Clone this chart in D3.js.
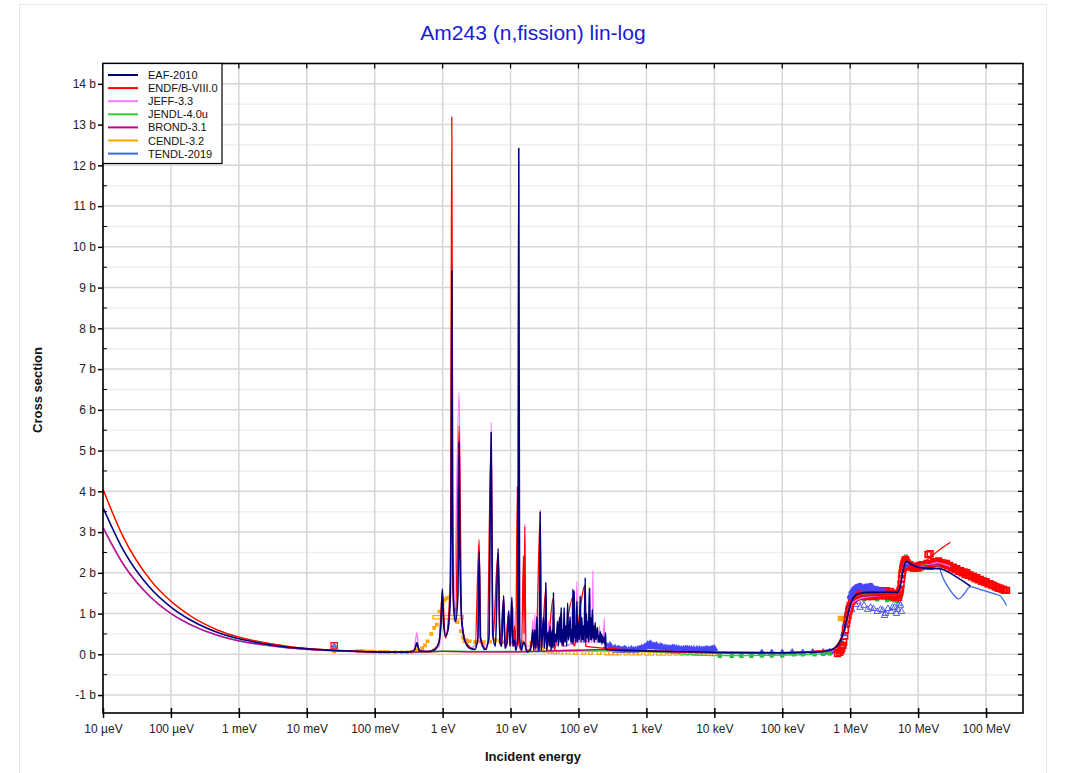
<!DOCTYPE html>
<html><head><meta charset="utf-8">
<script src="https://cdn.jsdelivr.net/npm/d3@7"></script>
<style>body{margin:0;background:#fff;font-family:"Liberation Sans",Arial,sans-serif}</style>
</head><body><svg id="c" width="1067" height="773"></svg>
<script>
// ---------- axis ticks ----------
const xTickValues = [1e-5,1e-4,1e-3,1e-2,1e-1,1,10,100,1e3,1e4,1e5,1e6,1e7,1e8];
const xTickLabels = ["10 µeV","100 µeV","1 meV","10 meV","100 meV","1 eV","10 eV","100 eV","1 keV","10 keV","100 keV","1 MeV","10 MeV","100 MeV"];
const yTickValues = [-1,0,1,2,3,4,5,6,7,8,9,10,11,12,13,14];
const yTickLabels = ["-1 b","0 b","1 b","2 b","3 b","4 b","5 b","6 b","7 b","8 b","9 b","10 b","11 b","12 b","13 b","14 b"];
const yMinorValues = [-0.5,0.5,1.5,2.5,3.5,4.5,5.5,6.5,7.5,8.5,9.5,10.5,11.5,12.5,13.5];

// ---------- evaluated libraries ----------
const seriesNames  = ["EAF-2010","ENDF/B-VIII.0","JEFF-3.3","JENDL-4.0u","BROND-3.1","CENDL-3.2","TENDL-2019"];
const seriesColors = ["#00007f","#ff0000","#ff77ff","#33cc33","#c0008c","#ffa500","#4169e1"];

const eaf = [[1e-5,3.6],[2e-5,2.55],[5e-5,1.62],[1e-4,1.16],[2e-4,0.83],[5e-4,0.53],[1e-3,0.38],[2e-3,0.28],[5e-3,0.18],[1e-2,0.135],[2.53e-2,0.095],[5e-2,0.075],[0.1,0.06],[0.2,0.055],[0.3,0.055],[0.37,0.08],[0.40,0.18],[0.417,0.29],[0.435,0.18],[0.47,0.08],[0.6,0.07],[0.75,0.1],[0.88,0.3],[0.95,0.8],[0.99,1.6],[1.03,0.8],[1.1,0.45],[1.2,0.6],[1.3,1.5],[1.34,4],[1.365,9.41],[1.39,4],[1.45,1.2],[1.55,0.8],[1.68,1.5],[1.73,3.5],[1.75,5.2],[1.78,3],[1.9,0.9],[2.1,0.35],[2.5,0.15],[3.0,0.12],[3.3,0.4],[3.45,2.52],[3.6,0.4],[4.2,0.12],[4.8,0.4],[5.18,5.45],[5.45,0.5],[6.0,0.2],[6.56,2.6],[7.0,0.3],[7.4,0.2],[7.91,1.44],[8.3,0.15],[8.9,0.3],[9.4,1.07],[9.8,0.2],[10.45,1.40],[10.8,0.2],[11.4,0.35],[12.0,0.1],[12.8,0.5],[13.2,12.42],[13.6,0.4],[14.5,0.1],[15.5,0.3],[16.2,0.25],[17.5,0.06],[19,0.08],[20.2,0.2],[21.3,0.6],[22,0.1],[22.8,0.6],[23.6,0.15],[24.4,0.92],[25.5,0.08],[26.5,0.15],[27.3,3.51],[28.2,0.1],[29.2,0.4],[30.5,0.91],[31.5,0.15],[32.2,0.5],[33.1,1.77],[34,0.1],[35,0.4],[36.2,0.55],[37.2,0.2],[38.3,0.69],[39.5,0.1],[40.5,0.45],[41.4,0.6],[42,0.15],[42.8,1.52],[44,0.2],[45.5,0.5],[47,0.3],[49.1,0.81],[50.5,0.2],[52.5,0.91],[54,0.3],[55.6,1.15],[57,0.25],[58.5,0.6],[60,0.2],[61.5,1.15],[63,0.3],[65,0.7],[67,0.2],[69.3,1.26],[71,0.35],[73,0.5],[75.5,0.92],[77,0.3],[79,0.6],[81,0.25],[82.7,1.6],[84.5,0.3],[86.5,1.56],[88,0.4],[90,0.7],[92,0.3],[94.7,1.3],[97,0.3],[100,0.8],[103,0.35],[106,1.43],[109,0.3],[112,0.9],[115,0.35],[118,0.7],[121,0.3],[125.6,1.88],[128,0.3],[131,1.0],[134,0.4],[137,0.8],[140,0.3],[145,1.63],[148,0.35],[152,0.9],[156,0.35],[160,1.1],[163,0.4],[167,0.7],[171,0.3],[176,0.78],[180,0.35],[185,0.5],[190.5,0.66],[195,0.3],[200,0.45],[204,0.3],[209,0.56],[214,0.3],[218,0.5],[222,0.25],[227,0.45],[233,0.3],[239,0.4],[244,0.25],[250,0.53],[253,0.15],[256,0.12],[300,0.11],[1000,0.085],[1e4,0.05],[1e5,0.04],[3e5,0.05],[5e5,0.1],[6.4e5,0.2],[8e5,0.55],[9e5,0.9],[1.07e6,1.34],[1.34e6,1.49],[2e6,1.52],[5e6,1.52],[5.5e6,1.7],[6e6,2.05],[6.7e6,2.28],[8e6,2.2],[1.16e7,2.12],[2.1e7,2.1],[3.5e7,1.92],[5.9e7,1.67]];

const endf = [[1e-5,4.05],[2e-5,2.87],[5e-5,1.82],[1e-4,1.3],[2e-4,0.93],[5e-4,0.59],[1e-3,0.42],[2e-3,0.31],[5e-3,0.2],[1e-2,0.145],[2.53e-2,0.1],[5e-2,0.078],[0.1,0.062],[0.2,0.055],[0.3,0.055],[0.38,0.08],[0.417,0.26],[0.45,0.08],[0.6,0.07],[0.88,0.25],[0.99,1.5],[1.1,0.4],[1.3,1.8],[1.365,13.19],[1.42,1.6],[1.55,0.8],[1.75,5.6],[1.9,0.9],[2.2,0.3],[3.0,0.12],[3.45,2.82],[3.6,0.4],[4.5,0.12],[5.18,5.3],[5.5,0.4],[6.56,2.5],[7,0.25],[7.91,1.35],[8.3,0.15],[9.4,1.0],[10,0.2],[10.45,1.3],[10.9,0.2],[11.4,0.70],[11.9,0.1],[12.6,4.11],[13.0,0.3],[14.5,0.1],[15.5,2.42],[15.8,0.5],[16.2,3.14],[16.8,0.1],[19,0.1],[21.3,0.5],[22,0.1],[22.8,0.5],[23.6,0.1],[27.3,3.4],[28.2,0.1],[33.1,1.6],[34,0.1],[42.8,1.4],[44,0.1],[55.6,1.0],[57,0.2],[82.7,1.4],[84.5,0.2],[125.6,1.7],[128,0.2],[250,0.15],[1000,0.09],[1e4,0.05],[1e5,0.04],[5e5,0.1],[8e5,0.55],[1.07e6,1.3],[1.5e6,1.45],[5e6,1.48],[6e6,2.1],[6.7e6,2.3],[1e7,2.2],[1.48e7,2.37],[2e7,2.55],[3e7,2.75]];

const jeff = [[1e-5,3.1],[2e-5,2.2],[5e-5,1.4],[1e-4,1.0],[2e-4,0.72],[5e-4,0.46],[1e-3,0.33],[2e-3,0.25],[5e-3,0.165],[1e-2,0.125],[2.53e-2,0.09],[5e-2,0.072],[0.1,0.06],[0.3,0.055],[0.38,0.1],[0.417,0.53],[0.45,0.1],[0.6,0.07],[0.9,0.2],[0.99,1.3],[1.1,0.4],[1.3,1.2],[1.365,9.0],[1.45,0.8],[1.75,6.43],[1.9,0.8],[2.5,0.15],[3.3,0.3],[3.45,2.5],[3.7,0.2],[4.8,0.3],[5.18,5.69],[5.5,0.4],[6.56,2.5],[7.0,0.2],[7.91,1.4],[8.3,0.2],[9.4,1.0],[9.8,0.2],[10.45,1.3],[10.7,0.3],[11.0,1.15],[11.5,0.2],[12.8,0.4],[13.2,5],[13.6,0.3],[15.8,0.3],[16.2,3.2],[16.8,0.2],[20.2,0.2],[21.3,0.85],[22,0.2],[22.8,0.97],[23.6,0.2],[26.5,0.2],[27.3,3.55],[28.2,0.2],[32.2,0.3],[33.1,1.7],[34,0.2],[35.2,0.3],[36.2,0.81],[37.2,0.2],[40.5,0.3],[41.4,0.97],[42.2,0.2],[54,0.3],[55.6,1.0],[58,0.2],[84.5,0.3],[86.5,1.4],[89,0.2],[92,0.3],[94.7,1.79],[97,0.3],[123,0.3],[125.6,1.7],[128,0.3],[146,0.3],[148.6,1.61],[152,0.3],[160,0.3],[163,2.06],[166,0.3],[200,0.3],[203.9,0.69],[207,0.3],[230,0.3],[233.5,0.66],[236,0.3],[239,0.88],[243,0.3],[250,0.2],[300,0.12],[1000,0.09],[1e4,0.05],[1e5,0.035],[5e5,0.09],[8e5,0.5],[1.07e6,1.25],[1.4e6,1.37],[3e6,1.45],[5e6,1.47],[6e6,2.1],[6.7e6,2.25],[1e7,2.15],[1.6e7,2.22],[1.9e7,2.25],[2.5e7,2.2],[3e7,2.15]];

const jendl = [[1e-5,3.1],[2e-5,2.2],[5e-5,1.4],[1e-4,1.0],[2e-4,0.72],[5e-4,0.46],[1e-3,0.33],[2e-3,0.25],[5e-3,0.165],[1e-2,0.125],[2.53e-2,0.09],[0.1,0.06],[0.3,0.055],[0.6,0.06],[1,0.08],[3,0.07],[10,0.07],[30,0.08],[100,0.1],[250,0.1],[1000,0.07],[1e4,-0.03],[3e4,-0.03],[1e5,-0.02],[3e5,0.0],[5e5,0.08],[8e5,0.5],[1.07e6,1.3],[1.5e6,1.45],[5e6,1.47],[6e6,2.1],[6.7e6,2.3],[1e7,2.18],[2e7,2.2]];

const brond = [[1e-5,3.12],[2e-5,2.21],[5e-5,1.41],[1e-4,1.0],[2e-4,0.72],[5e-4,0.46],[1e-3,0.33],[2e-3,0.25],[5e-3,0.165],[1e-2,0.125],[2.53e-2,0.09],[0.1,0.06],[0.3,0.055],[0.6,0.06],[1,0.07],[3,0.06],[10,0.06],[30,0.08],[100,0.1],[250,0.12],[300,0.1],[1000,0.08],[1e4,0.03],[1e5,0.02],[5e5,0.09],[8e5,0.5],[1.07e6,1.3],[1.5e6,1.42],[5e6,1.48],[6e6,2.08],[6.7e6,2.27],[1e7,2.17],[2e7,2.2]];

const cendl = [[1e-5,4.05],[2e-5,2.87],[5e-5,1.82],[1e-4,1.3],[2e-4,0.93],[5e-4,0.59],[1e-3,0.42],[2e-3,0.31],[5e-3,0.2],[1e-2,0.145],[2.53e-2,0.1],[0.1,0.062],[0.3,0.055],[0.6,0.06],[1,0.07],[3,0.06],[10,0.06],[30,0.07],[100,0.07],[250,0.07],[1000,0.06],[1e4,0.04],[1e5,0.03],[5e5,0.1],[8e5,0.5],[1.07e6,1.3],[1.5e6,1.45],[5e6,1.48],[6e6,2.1],[6.7e6,2.28],[1e7,2.18],[2e7,2.2]];

const tendl = [[1e-5,3.1],[2e-5,2.2],[5e-5,1.4],[1e-4,1.0],[1e-3,0.33],[1e-2,0.125],[0.1,0.06],[0.3,0.055],[1,0.07],[10,0.06],[100,0.08],[250,0.1],[1000,0.07],[1e4,0.04],[1e5,0.04],[5e5,0.1],[8e5,0.5],[1.07e6,1.3],[1.5e6,1.45],[5e6,1.5],[6e6,2.05],[7e6,2.25],[1e7,2.15],[1.9e7,2.2],[2.38e7,1.84],[3.16e7,1.51],[3.95e7,1.36],[4.68e7,1.47],[5.87e7,1.66],[8.24e7,1.59],[1.29e8,1.49],[1.62e8,1.43],[2e8,1.2]];

const seriesData = [eaf, endf, jeff, jendl, brond, cendl, tendl];
const drawOrder = [6,5,3,2,4,1,0];

// ---------- experimental data ----------
const expOrangeLow = [[0.0253,0.07],[0.055,0.08],[0.06,0.07],[0.065,0.08],[0.07,0.07],[0.08,0.065],[0.09,0.07],[0.1,0.06],[0.12,0.06],[0.14,0.06],[0.16,0.055],[0.2,0.05],[0.25,0.05],[0.3,0.05],[0.35,0.06],[0.4,0.1],[0.45,0.08],[0.5,0.15],[0.55,0.22],[0.6,0.32],[0.68,0.5],[0.75,0.65],[0.82,0.73],[0.9,1.05],[1.0,1.25],[1.08,1.34],[1.15,1.38],[1.25,1.4],[1.5,1.1],[1.65,0.79],[1.85,0.57],[2.0,0.41],[2.2,0.35],[2.5,0.32],[3,0.3],[3.5,0.32],[4,0.3],[5,0.31],[6,0.35],[7,0.33],[8,0.3],[10,0.28],[12,0.25],[15,0.3],[20,0.28],[25,0.22],[30,0.2]];
const expOrangeBand = [[28,0.15],[32,0.1],[38,0.07],[45,0.06],[55,0.05],[70,0.05],[90,0.04],[120,0.04],[150,0.04],[200,0.04],[260,0.03],[300,0.03],[350,0.03],[400,0.03],[500,0.03],[600,0.03],[700,0.03],[800,0.03],[1000,0.025],[1200,0.02],[1500,0.02],[1800,0.02],[2200,0.02],[2700,0.02],[3300,0.02],[4000,0.02],[5000,0.02],[6000,0.02],[7000,0.02],[8000,0.02],[9000,0.02],[10000,0.02]];
const expOrangeBoxes = [[0.72,2.02,0.87,0.95],[2.0,2.37,0.29,0.36]];
const expOrangeFast = [[7.2e5,0.88]];
const expThermal = [[0.0253,0.21]];
const expBlueKeV = [[260,0.2],[270,0.13],[280,0.15],[290,0.22],[300,0.18],[315,0.12],[330,0.12],[345,0.15],[360,0.1],[380,0.13],[400,0.12],[425,0.1],[450,0.1],[475,0.13],[500,0.11],[550,0.1],[600,0.12],[650,0.1],[700,0.1],[750,0.12],[800,0.13],[850,0.15],[900,0.15],[950,0.18],[1000,0.2],[1050,0.24],[1100,0.22],[1150,0.26],[1200,0.18],[1250,0.21],[1300,0.2],[1400,0.22],[1500,0.17],[1600,0.19],[1700,0.18],[1850,0.16],[2000,0.15],[2150,0.14],[2300,0.14],[2450,0.16],[2600,0.15],[2800,0.14],[3000,0.13],[3250,0.12],[3500,0.12],[3750,0.13],[4000,0.13],[4300,0.12],[4600,0.12],[5000,0.12],[5500,0.12],[6000,0.12],[6500,0.11],[7000,0.11],[7500,0.12],[8000,0.12],[8500,0.11],[9000,0.12],[9500,0.13],[10000,0.14]];
const expBlueFast = [[5e4,0.04],[7e4,0.04],[1e5,0.04],[1.4e5,0.05],[2e5,0.04],[2.8e5,0.05],[4e5,0.05],[5e5,0.06],[6e5,0.08],[7e5,0.15],[7.5e5,0.3],[8e5,0.5],[8.5e5,0.75],[9e5,1.0],[9.5e5,1.2]];
const expBlueCircles = [[1.0e6,1.4],[1.05e6,1.5],[1.1e6,1.55],[1.15e6,1.6],[1.2e6,1.62],[1.25e6,1.65],[1.3e6,1.66],[1.4e6,1.68],[1.5e6,1.64],[1.6e6,1.62],[1.7e6,1.66],[1.8e6,1.66],[1.9e6,1.62],[2.0e6,1.68],[2.2e6,1.62],[2.5e6,1.6],[3.0e6,1.55],[6.6e6,2.2]];
const expBlueTriangles = [[1.0e6,1.25],[1.05e6,1.1],[1.1e6,1.3],[1.2e6,1.22],[1.3e6,1.3],[1.4e6,1.15],[1.6e6,1.2],[1.8e6,1.1],[2.0e6,1.15],[2.2e6,1.12],[2.5e6,1.05],[2.8e6,1.1],[3.0e6,1.08],[3.2e6,0.95],[3.3e6,1.0],[3.6e6,1.12],[4.0e6,1.05],[4.2e6,1.15],[4.5e6,1.15],[4.8e6,1.0],[5.0e6,1.1],[5.3e6,1.25],[5.5e6,1.2],[5.7e6,1.05]];
const expGreen = [[1.2e4,-0.04],[1.8e4,-0.04],[2.5e4,-0.04],[3.5e4,-0.04],[5e4,-0.03],[7e4,-0.03],[1e5,-0.03],[1.5e5,0.0],[2e5,0.0],[3e5,0.0],[4e5,0.01],[5e5,0.02],[1.1e6,1.35],[1.3e6,1.38],[1.6e6,1.35],[2e6,1.38],[2.5e6,1.35],[3e6,1.38],[3.5e6,1.33],[4e6,1.35],[4.5e6,1.32],[5e6,1.3],[5.5e6,1.4],[5.8e6,2.1],[6.2e6,2.35],[6.6e6,2.4]];
const expRedSquares = [[6.5e5,0.02],[7e5,0.05],[7.3e5,0.1],[7.5e5,0.15],[7.8e5,0.22],[8e5,0.3],[8.3e5,0.45],[8.5e5,0.6],[8.8e5,0.75],[9e5,0.85],[9.3e5,0.95],[9.5e5,1.05],[9.8e5,1.12],[1.0e6,1.2],[1.05e6,1.3],[1.1e6,1.35],[1.15e6,1.38],[1.2e6,1.4],[1.25e6,1.47],[1.3e6,1.43],[1.35e6,1.5],[1.4e6,1.45],[1.45e6,1.52],[1.5e6,1.5],[1.55e6,1.42],[1.6e6,1.45],[1.65e6,1.53],[1.7e6,1.5],[1.75e6,1.42],[1.8e6,1.46],[1.9e6,1.54],[2.0e6,1.5],[2.1e6,1.42],[2.15e6,1.47],[2.2e6,1.55],[2.3e6,1.52],[2.4e6,1.43],[2.45e6,1.48],[2.55e6,1.56],[2.6e6,1.52],[2.7e6,1.44],[2.8e6,1.5],[2.9e6,1.56],[3.0e6,1.53],[3.1e6,1.45],[3.2e6,1.5],[3.35e6,1.56],[3.5e6,1.5],[3.6e6,1.43],[3.8e6,1.47],[3.9e6,1.54],[4.0e6,1.45],[4.15e6,1.5],[4.3e6,1.44],[4.45e6,1.4],[4.6e6,1.42],[4.8e6,1.48],[5.0e6,1.45],[5.15e6,1.4],[5.3e6,1.5],[5.4e6,1.55],[5.5e6,1.6],[5.6e6,1.72],[5.7e6,1.85],[5.8e6,1.95],[5.85e6,2.0],[5.95e6,2.08],[6.0e6,2.12],[6.1e6,2.18],[6.2e6,2.22],[6.3e6,2.26],[6.4e6,2.28],[6.5e6,2.32],[6.6e6,2.3],[6.7e6,2.22],[6.8e6,2.25],[6.9e6,2.18],[7.0e6,2.22],[7.3e6,2.17],[7.5e6,2.2],[7.8e6,2.14],[8e6,2.15],[8.5e6,2.12],[9e6,2.12],[9.5e6,2.16],[1e7,2.12],[1.05e7,2.18],[1.1e7,2.15],[1.15e7,2.2],[1.2e7,2.17],[1.3e7,2.18],[1.35e7,2.23],[1.45e7,2.2],[1.5e7,2.16],[1.6e7,2.22],[1.7e7,2.27],[1.75e7,2.25],[1.85e7,2.23],[1.9e7,2.27],[2.0e7,2.29],[2.1e7,2.25],[2.2e7,2.22],[2.3e7,2.24],[2.45e7,2.2],[2.6e7,2.23],[2.75e7,2.17],[2.9e7,2.18],[3.1e7,2.12],[3.3e7,2.14],[3.5e7,2.08],[3.7e7,2.1],[3.95e7,2.04],[4.2e7,2.05],[4.45e7,2.0],[4.7e7,2.02],[4.95e7,1.96],[5.2e7,2.0],[5.5e7,1.94],[5.8e7,1.95],[6.1e7,1.9],[6.5e7,1.92],[6.9e7,1.86],[7.3e7,1.88],[7.7e7,1.83],[8.2e7,1.84],[8.6e7,1.79],[9.1e7,1.8],[9.6e7,1.76],[1.0e8,1.78],[1.07e8,1.73],[1.14e8,1.73],[1.21e8,1.7],[1.29e8,1.69],[1.37e8,1.66],[1.45e8,1.65],[1.52e8,1.62],[1.6e8,1.62],[1.7e8,1.6],[1.8e8,1.59],[1.9e8,1.57],[2.0e8,1.57],[1.4e7,2.45],[1.5e7,2.47]];

// ---------- layout ----------
const svg = d3.select("#c");
const x = d3.scaleLog().domain([1e-5, 3.5e8]).range([103, 1023]);
const y = d3.scaleLinear().domain([-1.44, 14.5]).range([713, 63.5]);
const [x0, x1] = x.range(), [y0, y1] = y.range();

svg.append("rect").attr("x",19.5).attr("y",4.5).attr("width",1027).attr("height",800)
  .attr("fill","#fff").attr("stroke","#e6e6e6");

// grid
const g = svg.append("g");
g.selectAll(".ym").data(yMinorValues).enter().append("line")
  .attr("x1",x0).attr("x2",x1).attr("y1",d=>y(d)).attr("y2",d=>y(d))
  .attr("stroke","#efefef").attr("stroke-width",1.5);
g.selectAll(".yg").data(yTickValues).enter().append("line")
  .attr("x1",x0).attr("x2",x1).attr("y1",d=>y(d)).attr("y2",d=>y(d))
  .attr("stroke","#d6d6d6").attr("stroke-width",1.5);
g.selectAll(".xg").data(xTickValues).enter().append("line")
  .attr("x1",d=>x(d)).attr("x2",d=>x(d)).attr("y1",y0).attr("y2",y1)
  .attr("stroke","#d6d6d6").attr("stroke-width",1.5);

svg.append("clipPath").attr("id","clip").append("rect")
  .attr("x",x0).attr("y",y1).attr("width",x1-x0).attr("height",y0-y1);
const plot = svg.append("g").attr("clip-path","url(#clip)");

// experimental points
const sym = (type,size)=>d3.symbol().type(type).size(size);
function points(data, type, size, fill, stroke, sw){
  plot.append("g").selectAll("path").data(data).enter().append("path")
    .attr("transform",d=>`translate(${x(d[0])},${y(d[1])})`)
    .attr("d",sym(type,size)())
    .attr("fill",fill).attr("stroke",stroke).attr("stroke-width",sw||1);
}
points(expOrangeLow, d3.symbolSquare, 14, "#ffa500", "none");
points(expOrangeBand, d3.symbolSquare, 12, "#fff", "#ffa500", 1.2);
plot.append("g").selectAll("rect").data(expOrangeBoxes).enter().append("rect")
  .attr("x",d=>x(d[0])).attr("width",d=>x(d[1])-x(d[0]))
  .attr("y",d=>y(d[3])).attr("height",d=>y(d[2])-y(d[3]))
  .attr("fill","none").attr("stroke","#ffa500").attr("stroke-width",1.2);
points(expBlueKeV, d3.symbolTriangle, 20, "#4646ff", "#4646ff", 0.8);
points(expBlueFast, d3.symbolTriangle, 18, "#4646ff", "#4646ff", 0.8);
points(expGreen, d3.symbolSquare, 18, "#22bb44", "none");
points(expBlueTriangles, d3.symbolTriangle, 18, "none", "#4646ff", 0.9);
points(expRedSquares, d3.symbolSquare, 34, "none", "#ff0000", 1.6);
points(expBlueCircles, d3.symbolCircle, 30, "#4646ff", "none");
points(expOrangeFast, d3.symbolSquare, 30, "#ffa500", "none");
points(expThermal, d3.symbolSquare, 40, "#fff", "#ff0000", 1.2);
points(expThermal, d3.symbolTriangle, 12, "#8888ff", "#3333cc", 0.8);

// evaluated curves
const line = d3.line().curve(d3.curveMonotoneX).x(d=>x(d[0])).y(d=>y(d[1]));
drawOrder.forEach(i=>{
  plot.append("path").datum(seriesData[i]).attr("d",line)
    .attr("fill","none").attr("stroke",seriesColors[i])
    .attr("stroke-width", i===0?1.6:1.3).attr("stroke-linejoin","round");
});

// frame
svg.append("rect").attr("x",x0).attr("y",y1).attr("width",x1-x0).attr("height",y0-y1)
  .attr("fill","none").attr("stroke","#000").attr("stroke-width",1.6);

// axes
const xAxis = d3.axisBottom(x).tickValues(xTickValues).tickFormat((d,i)=>xTickLabels[i]).tickSizeInner(5).tickSizeOuter(0);
const xa = svg.append("g").attr("transform",`translate(0,${y0})`).call(xAxis);
xa.select(".domain").remove();
xa.selectAll(".tick line").attr("y1",-5).attr("y2",5).attr("stroke-width",1.5);
xa.selectAll("text").attr("y",11).attr("font-size",12).attr("font-family","Liberation Sans, Arial, sans-serif").attr("fill","#222");

const yAxis = d3.axisLeft(y).tickValues(yTickValues).tickFormat((d,i)=>yTickLabels[i]).tickSizeInner(5).tickSizeOuter(0);
const ya = svg.append("g").attr("transform",`translate(${x0},0)`).call(yAxis);
ya.select(".domain").remove();
ya.selectAll(".tick line").attr("stroke-width",1.5);
ya.selectAll("text").attr("x",-7).attr("font-size",12).attr("font-family","Liberation Sans, Arial, sans-serif").attr("fill","#222");
svg.append("g").selectAll("line").data(yMinorValues).enter().append("line")
  .attr("x1",x0).attr("x2",x0+4).attr("y1",d=>y(d)).attr("y2",d=>y(d)).attr("stroke","#000");
svg.append("g").selectAll("line").data(yTickValues.concat(yMinorValues)).enter().append("line")
  .attr("x1",x1-5).attr("x2",x1).attr("y1",d=>y(d)).attr("y2",d=>y(d)).attr("stroke","#000").attr("stroke-width",1.2);
svg.append("g").selectAll("line").data(xTickValues).enter().append("line")
  .attr("x1",d=>x(d)).attr("x2",d=>x(d)).attr("y1",y1).attr("y2",y1+5).attr("stroke","#000").attr("stroke-width",1.2);

// titles
svg.append("text").attr("x",533).attr("y",40).attr("text-anchor","middle")
  .attr("font-size",21).attr("fill","#1a1ad8").text("Am243 (n,fission) lin-log");
svg.append("text").attr("x",533).attr("y",761).attr("text-anchor","middle")
  .attr("font-size",13).attr("font-weight","bold").attr("fill","#111").text("Incident energy");
svg.append("text").attr("transform","translate(42,390) rotate(-90)").attr("text-anchor","middle")
  .attr("font-size",13).attr("font-weight","bold").attr("fill","#111").text("Cross section");

// legend
const lg = svg.append("g");
lg.append("rect").attr("x",x0).attr("y",y1).attr("width",119).attr("height",100)
  .attr("fill","#fff").attr("stroke","#000").attr("stroke-width",1.2);
seriesNames.forEach((n,i)=>{
  const yy = 75 + i*13.1;
  lg.append("line").attr("x1",108).attr("x2",138).attr("y1",yy).attr("y2",yy)
    .attr("stroke",seriesColors[i]).attr("stroke-width",2);
  lg.append("text").attr("x",148).attr("y",yy+4).attr("font-size",11).attr("fill","#111").text(n);
});
</script></body></html>
